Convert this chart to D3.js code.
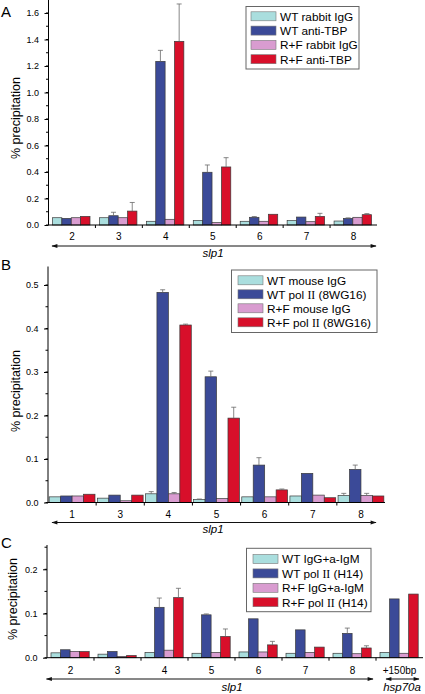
<!DOCTYPE html>
<html><head><meta charset="utf-8">
<script src="https://cdn.jsdelivr.net/npm/d3@7"></script>
<style>body{margin:0;background:#fff}svg{display:block;font-family:"Liberation Sans",Arial,sans-serif}</style>
</head><body>
<script>
// ---------- DATA ----------
const colors = ["#aadede", "#3b4a98", "#d99cd0", "#d80f2a"];

const seriesA = ["WT rabbit IgG", "WT anti-TBP", "R+F rabbit IgG", "R+F anti-TBP"];
const catsA = ["2", "3", "4", "5", "6", "7", "8"];
const aWtIgG = [0.055, 0.055, 0.028, 0.035, 0.028, 0.033, 0.030];
const aWtTBP = [0.050, 0.070, 1.235, 0.398, 0.058, 0.060, 0.050];
const aRfIgG = [0.055, 0.055, 0.043, 0.018, 0.028, 0.025, 0.058];
const aRfTBP = [0.065, 0.105, 1.386, 0.438, 0.081, 0.065, 0.078];
const aWtTBPErr = [0, 0.026, 0.083, 0.055, 0.006, 0, 0.004];
const aRfTBPErr = [0, 0.065, 0.282, 0.070, 0, 0.023, 0.008];
const ticksA = [0.0, 0.2, 0.4, 0.6, 0.8, 1.0, 1.2, 1.4, 1.6];

const seriesB = ["WT mouse IgG", "WT pol II (8WG16)", "R+F mouse IgG", "R+F pol II (8WG16)"];
const catsB = ["1", "3", "4", "5", "6", "7", "8"];
const bWtIgG = [0.013, 0.010, 0.020, 0.007, 0.013, 0.015, 0.016];
const bWtPol = [0.015, 0.017, 0.483, 0.289, 0.086, 0.067, 0.076];
const bRfIgG = [0.015, 0.004, 0.020, 0.009, 0.013, 0.017, 0.016];
const bRfPol = [0.019, 0.017, 0.408, 0.194, 0.029, 0.011, 0.015];
const bWtIgGErr = [0, 0, 0.005, 0.001, 0, 0, 0.005];
const bWtPolErr = [0, 0, 0.006, 0.013, 0.017, 0, 0.010];
const bRfIgGErr = [0, 0, 0.003, 0, 0, 0, 0.005];
const bRfPolErr = [0, 0, 0.002, 0.025, 0.002, 0, 0];
const ticksB = [0.0, 0.1, 0.2, 0.3, 0.4, 0.5];

const seriesC = ["WT IgG+a-IgM", "WT pol II (H14)", "R+F IgG+a-IgM", "R+F pol II (H14)"];
const catsC = ["2", "3", "4", "5", "6", "7", "8", "+150bp"];
const cWtIgG = [0.011, 0.008, 0.012, 0.010, 0.013, 0.010, 0.010, 0.012];
const cWtPol = [0.018, 0.014, 0.114, 0.097, 0.088, 0.063, 0.055, 0.133];
const cRfIgG = [0.014, 0.003, 0.017, 0.012, 0.013, 0.012, 0.009, 0.010];
const cRfPol = [0.014, 0.005, 0.136, 0.048, 0.029, 0.024, 0.022, 0.144];
const cWtPolErr = [0, 0, 0.021, 0.002, 0, 0, 0.012, 0];
const cRfPolErr = [0, 0, 0.021, 0.017, 0.008, 0, 0.005, 0];
const ticksC = [0.0, 0.1, 0.2];

const zeros = n => new Array(n).fill(0);

// ---------- DRAW ----------
const svg = d3.select("body").append("svg").attr("width", 425).attr("height", 694);
svg.append("defs").append("marker").attr("id", "ah").attr("viewBox", "0 0 10 10")
  .attr("refX", 9).attr("refY", 5).attr("markerWidth", 7).attr("markerHeight", 6)
  .attr("markerUnits", "userSpaceOnUse").attr("orient", "auto-start-reverse")
  .append("path").attr("d", "M0,1.5L10,5L0,8.5z").attr("fill", "#111");

function panel(cfg) {
  const g = svg.append("g");
  const x = d3.scaleBand().domain(cfg.cats).range([cfg.x0, cfg.x1]).padding(0);
  const xi = d3.scaleBand().domain(d3.range(4)).range(cfg.inner).padding(0);
  const y = d3.scaleLinear().domain([0, cfg.ymax]).range([cfg.y0, cfg.ytop]);

  // bars
  cfg.values.forEach((vals, si) => {
    g.append("g").selectAll("rect").data(vals).join("rect")
      .attr("x", (d, i) => x(cfg.cats[i]) + xi(si))
      .attr("width", xi.bandwidth())
      .attr("y", d => y(d)).attr("height", d => y(0) - y(d))
      .attr("fill", colors[si]).attr("stroke", "#3a3a3a").attr("stroke-width", 0.7);
    const errs = cfg.errs[si];
    const eg = g.append("g").attr("stroke", "#6a6a6a").attr("stroke-width", 0.8);
    vals.forEach((v, i) => {
      const e = errs[i];
      if (!e) return;
      const cx = x(cfg.cats[i]) + xi(si) + xi.bandwidth() / 2;
      eg.append("line").attr("x1", cx).attr("x2", cx).attr("y1", y(v)).attr("y2", y(v + e));
      eg.append("line").attr("x1", cx - 2.5).attr("x2", cx + 2.5).attr("y1", y(v + e)).attr("y2", y(v + e));
    });
  });

  // y axis
  const ya = d3.axisLeft(y).tickValues(cfg.ticks).tickFormat(d3.format(".1f")).tickSize(4).tickSizeOuter(0);
  const yg = g.append("g").attr("transform", `translate(${cfg.x0},0)`).call(ya);
  yg.select(".domain").attr("d", `M0,${cfg.y0}V${cfg.ytop}`);
  yg.selectAll("text").attr("font-size", 9).attr("font-family", "Liberation Sans, Arial").attr("dx", -2.5);
  const minor = d3.range(0, cfg.ymax + 1e-9, cfg.minor);
  yg.append("g").selectAll("line").data(minor).join("line")
    .attr("x1", 0).attr("x2", -2.5).attr("y1", d => y(d)).attr("y2", d => y(d)).attr("stroke", "#000");

  // x axis
  const xg = g.append("g");
  xg.append("line").attr("x1", cfg.x0).attr("x2", cfg.x1).attr("y1", cfg.y0).attr("y2", cfg.y0).attr("stroke", "#000");
  xg.selectAll("line.t").data(cfg.cats.slice(1)).join("line").attr("class", "t")
    .attr("x1", d => x(d)).attr("x2", d => x(d)).attr("y1", cfg.y0).attr("y2", cfg.y0 + 3).attr("stroke", "#000");
  xg.selectAll("text").data(cfg.cats).join("text")
    .attr("x", d => x(d) + x.bandwidth() / 2).attr("y", cfg.y0 + cfg.labelDy)
    .attr("text-anchor", "middle").attr("font-size", 10).text(d => d);

  // arrows
  cfg.arrows.forEach(a => {
    g.append("line").attr("x1", a.x1).attr("x2", a.x2).attr("y1", a.y).attr("y2", a.y)
      .attr("stroke", "#111").attr("stroke-width", 1)
      .attr("marker-start", "url(#ah)").attr("marker-end", "url(#ah)");
    g.append("text").attr("x", a.lx).attr("y", a.ly).attr("text-anchor", "middle")
      .attr("font-size", 11.5).attr("font-style", "italic").text(a.label);
  });

  // y label
  g.append("text").attr("transform", `translate(${cfg.ylabX},${cfg.ylabY}) rotate(-90)`)
    .attr("text-anchor", "middle").attr("font-size", 12.5).text("% precipitation");
  // panel letter
  g.append("text").attr("x", 1).attr("y", cfg.letterY).attr("font-size", 15).text(cfg.letter);

  // legend
  const L = cfg.legend;
  g.append("rect").attr("x", L.x).attr("y", L.y).attr("width", L.w).attr("height", L.h)
    .attr("fill", "#fff").attr("stroke", "#666").attr("stroke-width", 1);
  cfg.series.forEach((s, i) => {
    const ry = L.y + L.pad + i * L.step;
    g.append("rect").attr("x", L.x + L.sx).attr("y", ry - 4.5).attr("width", 25).attr("height", 9)
      .attr("fill", colors[i]).attr("stroke", "#777").attr("stroke-width", 0.6);
    const t = g.append("text").attr("x", L.x + L.sx + 29).attr("y", ry + 4.3).attr("font-size", 11.8);
    const m = s.match(/^(.*pol )II( .*)$/);
    if (m) {
      t.append("tspan").text(m[1]);
      t.append("tspan").attr("font-family", "Liberation Serif, Times New Roman, serif").text("II");
      t.append("tspan").text(m[2]);
    } else t.text(s);
  });
}

panel({
  letter: "A", letterY: 17, cats: catsA, series: seriesA,
  values: [aWtIgG, aWtTBP, aRfIgG, aRfTBP],
  errs: [zeros(7), aWtTBPErr, zeros(7), aRfTBPErr],
  x0: 48.5, x1: 377, inner: [4, 41.5], y0: 225, ytop: 0, ymax: 1.698,
  ticks: ticksA, minor: 0.1, labelDy: 15,
  arrows: [{x1: 52, x2: 376, y: 246, label: "slp1", lx: 213, ly: 256.5}],
  ylabX: 20, ylabY: 118,
  legend: {x: 246, y: 6.5, w: 113, h: 62.5, pad: 9.8, step: 14.3, sx: 5}
});

panel({
  letter: "B", letterY: 270, cats: catsB, series: seriesB,
  values: [bWtIgG, bWtPol, bRfIgG, bRfPol],
  errs: [bWtIgGErr, bWtPolErr, bRfIgGErr, bRfPolErr],
  x0: 48, x1: 385, inner: [1.2, 47], y0: 502.5, ytop: 266.5, ymax: 0.5425,
  ticks: ticksB, minor: 0.05, labelDy: 15,
  arrows: [{x1: 52, x2: 376, y: 522.5, label: "slp1", lx: 213, ly: 533}],
  ylabX: 20, ylabY: 391,
  legend: {x: 231.5, y: 270, w: 145.5, h: 62.5, pad: 10.3, step: 14, sx: 6.5}
});

panel({
  letter: "C", letterY: 548, cats: catsC, series: seriesC,
  values: [cWtIgG, cWtPol, cRfIgG, cRfPol],
  errs: [zeros(8), cWtPolErr, zeros(8), cRfPolErr],
  x0: 47, x1: 423, inner: [4, 42.2], y0: 657.7, ytop: 545, ymax: 0.255,
  ticks: ticksC, minor: 0.05, labelDy: 16,
  arrows: [{x1: 46.5, x2: 373, y: 679, label: "slp1", lx: 232, ly: 691},
           {x1: 386, x2: 419, y: 679, label: "hsp70a", lx: 402, ly: 691}],
  ylabX: 17, ylabY: 599,
  legend: {x: 246.5, y: 548.3, w: 124.5, h: 63.4, pad: 10.7, step: 14.4, sx: 6.5}
});
</script>
</body></html>
